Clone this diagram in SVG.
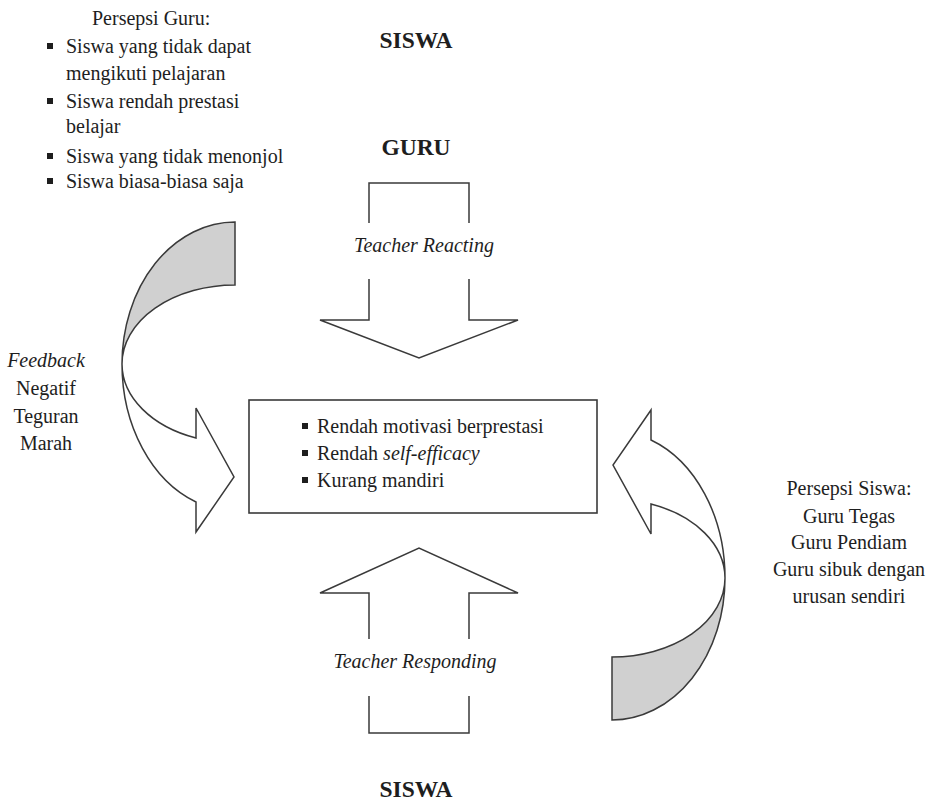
<svg xmlns="http://www.w3.org/2000/svg" width="933" height="804" viewBox="0 0 933 804">
  <defs>
    <style>
      text { font-family: "Liberation Serif", "Times New Roman", serif; font-size: 20px; fill: #1e1e1e; }
      .title { font-weight: bold; font-size: 23.5px; text-anchor: middle; }
      .mid { text-anchor: middle; }
      .it { font-style: italic; }
      .outline { fill: #ffffff; stroke: #3a3a3a; stroke-width: 1.5; stroke-linejoin: miter; }
      .back { fill: #d0d0d0; stroke: #3a3a3a; stroke-width: 1.5; }
      .box { fill: #ffffff; stroke: #3a3a3a; stroke-width: 1.6; }
      .bullet { fill: #1e1e1e; }
      .gap { fill: #ffffff; }
    </style>
  </defs>
  <rect width="933" height="804" fill="#ffffff"/>

  <!-- connectors: block arrows and curved arrows -->
  <g id="connectors">
    <g id="teacher-reacting">
      <path class="outline" d="M369,183 H469 V320 H518 L419,358 L320,320 H369 Z"/>
      <rect class="gap" x="345" y="223" width="150" height="56"/>
      <text class="it mid" x="424" y="252">Teacher Reacting</text>
    </g>
    <g id="teacher-responding">
      <path class="outline" d="M369,733 H469 V593 H518 L419,548 L320,593 H369 Z"/>
      <rect class="gap" x="345" y="639" width="150" height="57"/>
      <text class="it mid" x="415" y="668">Teacher Responding</text>
    </g>
    <g id="feedback-arrow">
      <path class="back" d="M235,222 A113 142 0 0 0 122,364 A113 79 0 0 1 235,285 Z"/>
      <path class="outline" d="M122,364 A113 147 0 0 0 196,502 L196,532 L234,477 L196,408 L196,438 A113 79 0 0 1 122,364 Z"/>
    </g>
    <g id="perception-arrow" transform="rotate(180 423.5 471)">
      <path class="back" d="M235,222 A113 142 0 0 0 122,364 A113 79 0 0 1 235,285 Z"/>
      <path class="outline" d="M122,364 A113 147 0 0 0 196,502 L196,532 L234,477 L196,408 L196,438 A113 79 0 0 1 122,364 Z"/>
    </g>
  </g>

  <!-- top labels -->
  <g id="siswa-top">
    <text class="title" x="416" y="48">SISWA</text>
  </g>
  <g id="guru">
    <text class="title" x="416" y="155">GURU</text>
  </g>

  <!-- teacher perception list -->
  <g id="persepsi-guru">
    <text x="92" y="25">Persepsi Guru:</text>
    <rect class="bullet" x="47" y="43" width="6" height="6"/>
    <text x="66" y="53">Siswa yang tidak dapat</text>
    <text x="66" y="80">mengikuti pelajaran</text>
    <rect class="bullet" x="47" y="98" width="6" height="6"/>
    <text x="66" y="108">Siswa rendah prestasi</text>
    <text x="66" y="133">belajar</text>
    <rect class="bullet" x="47" y="153" width="6" height="6"/>
    <text x="66" y="163">Siswa yang tidak menonjol</text>
    <rect class="bullet" x="47" y="178" width="6" height="6"/>
    <text x="66" y="188">Siswa biasa-biasa saja</text>
  </g>

  <!-- feedback label -->
  <g id="feedback">
    <text class="mid it" x="46" y="367">Feedback</text>
    <text class="mid" x="46" y="395">Negatif</text>
    <text class="mid" x="46" y="423">Teguran</text>
    <text class="mid" x="46" y="450">Marah</text>
  </g>

  <!-- central outcome box -->
  <g id="outcomes">
    <rect class="box" x="249" y="400" width="348" height="113"/>
    <rect class="bullet" x="302" y="423" width="6" height="6"/>
    <text x="317" y="433">Rendah motivasi berprestasi</text>
    <rect class="bullet" x="302" y="450" width="6" height="6"/>
    <text x="317" y="460">Rendah <tspan class="it">self-efficacy</tspan></text>
    <rect class="bullet" x="302" y="477" width="6" height="6"/>
    <text x="317" y="487">Kurang mandiri</text>
  </g>

  <!-- student perception list -->
  <g id="persepsi-siswa">
    <text class="mid" x="849" y="495">Persepsi Siswa:</text>
    <text class="mid" x="849" y="523">Guru Tegas</text>
    <text class="mid" x="849" y="549">Guru Pendiam</text>
    <text class="mid" x="849" y="576">Guru sibuk dengan</text>
    <text class="mid" x="849" y="603">urusan sendiri</text>
  </g>

  <g id="siswa-bottom">
    <text class="title" x="416" y="797">SISWA</text>
  </g>
</svg>
